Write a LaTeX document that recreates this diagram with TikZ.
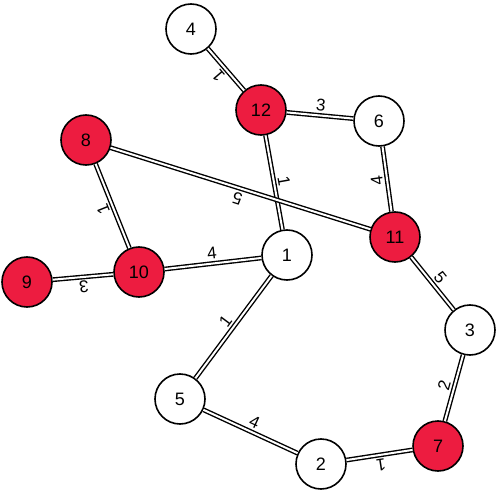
\documentclass[tikz,border=0pt]{standalone}
\usepackage{fontspec}
\setmainfont{Liberation Sans}
\definecolor{vred}{RGB}{237,28,64}
\begin{document}
\begin{tikzpicture}[x=1pt,y=-1pt,
  vx/.style={circle,draw=black,line width=1.6pt,fill=white,minimum size=50pt,inner sep=0pt,font=\fontsize{18}{20}\selectfont},
  rv/.style={vx,fill=vred},
  edge/.style={draw=black,line width=1.4pt,double=white,double distance=2pt},
  lbl/.style={sloped,allow upside down,above,inner sep=3.5pt,font=\fontsize{17}{19}\selectfont}]
\useasboundingbox (0,0) rectangle (498,492);
\node[vx] (n4) at (191,29) {4};
\node[rv] (n12) at (261,110) {12};
\node[vx] (n6) at (379,121) {6};
\node[rv] (n8) at (86,140) {8};
\node[rv] (n11) at (395,237) {11};
\node[vx] (n1) at (287,255) {1};
\node[rv] (n10) at (139,272) {10};
\node[rv] (n9) at (27,282) {9};
\node[vx] (n3) at (470,330) {3};
\node[vx] (n5) at (180,399) {5};
\node[vx] (n2) at (321,464) {2};
\node[rv] (n7) at (438,446) {7};
\draw[edge] (n12) -- node[lbl]{1} (n4);
\draw[edge] (n12) -- node[lbl]{3} (n6);
\draw[edge] (n12) -- node[lbl]{1} (n1);
\draw[edge] (n11) -- node[lbl]{4} (n6);
\draw[edge] (n11) -- node[lbl]{5} (n8);
\draw[edge] (n10) -- node[lbl]{1} (n8);
\draw[edge] (n10) -- node[lbl]{4} (n1);
\draw[edge] (n10) -- node[lbl]{3} (n9);
\draw[edge] (n5) -- node[lbl]{1} (n1);
\draw[edge] (n11) -- node[lbl]{5} (n3);
\draw[edge] (n7) -- node[lbl]{2} (n3);
\draw[edge] (n5) -- node[lbl]{4} (n2);
\draw[edge] (n7) -- node[lbl]{1} (n2);
\end{tikzpicture}
\end{document}
